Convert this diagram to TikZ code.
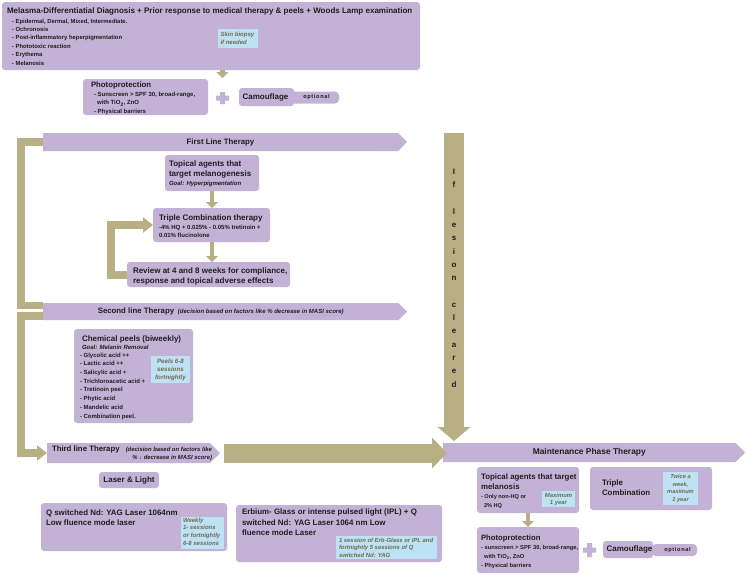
\documentclass[tikz,border=0pt]{standalone}
\usepackage{fontspec}
\setmainfont{Liberation Sans}
\usetikzlibrary{arrows.meta,shapes.symbols}
\definecolor{lav}{HTML}{C4B2D6}
\definecolor{oli}{HTML}{B8AF85}
\definecolor{sky}{HTML}{BDE2F4}
\definecolor{ntxt}{HTML}{72694F}
\definecolor{txt}{HTML}{1E1E1E}
\newcommand\fs[2]{\fontsize{#1}{#2}\selectfont}
\begin{document}
\begin{tikzpicture}[x=1pt,y=-1pt,
  every node/.style={inner sep=0pt, outer sep=0pt, text=txt},
  box/.style={fill=lav, rounded corners=3pt, anchor=north west},
  note/.style={fill=sky, anchor=north west},
  t/.style={anchor=north west, align=left},
  nt/.style={font=\fs{6}{8}\bfseries\itshape, text=ntxt, align=left},
  hd/.style={font=\fs{8}{10}\bfseries},
  banner/.style={shape=signal, signal to=east, signal pointer angle=90, fill=lav, anchor=west, font=\fs{7.8}{9}\bfseries},
  sarrow/.style={draw=oli, line width=4.5pt, -{Triangle[length=6pt,width=12pt]}},
  obar/.style={draw=oli, line width=7.5pt, line join=miter},
  opt/.style={font=\fs{5.6}{6}\bfseries\addfontfeature{LetterSpace=12}}
]
\useasboundingbox (0,0) rectangle (746,574);

% ---------- top box ----------
\node[box, minimum width=418pt, minimum height=68pt] (top) at (2,2) {};
\node[t, font=\fs{8}{9}\bfseries] (title) at (7,8) {Melasma-Differentiatial Diagnosis + Prior response to medical therapy \& peels + Woods Lamp examination};
\node[t, font=\fs{5.9}{8.4}\bfseries] (dx) at (12,18.8) {- Epidermal, Dermal, Mixed, Intermediate.\\- Ochronosis\\- Post-inflammatory heperpigmentation\\- Phototoxic reaction\\- Erythema\\- Melanosis};
\node[note, minimum width=40pt, minimum height=19pt] (biopsy) at (218,29) {};
\node[nt, anchor=west] (biopsyt) at ([xshift=2.5pt]biopsy.west) {Skin biopsy\\if needed};

% ---------- photoprotection 1 ----------
\node[box, minimum width=125pt, minimum height=36pt] (photo) at (83,79) {};
\node[t, font=\fs{7.8}{9}\bfseries] (photot) at (91,82.1) {Photoprotection};
\node[t, font=\fs{6}{8.7}\bfseries] (photol) at (94,91.8) {- Sunscreen > SPF 30, broad-range,\\\hspace*{3pt}with TiO\textsubscript{2}, ZnO\\- Physical barriers};
\coordinate (plus1) at (222.5,98);
\fill[lav] (220,92) rectangle (225,104) (216,95.5) rectangle (229,100.5);
\draw[sarrow] (top.south -| plus1) -- ([yshift=1pt]plus1 |- photo.north);
\node[box, minimum width=49pt, minimum height=12pt, rounded corners=4pt] (opt1) at (290,91.5) {};
\node[box, minimum width=55pt, minimum height=18pt] (cam1) at (239,88) {};
\node[hd] (cam1t) at ([xshift=-1pt]cam1.center) {Camouflage};
\node[opt] (opt1t) at ([xshift=2pt]opt1.center) {optional};

% ---------- banners ----------
\node[banner, minimum width=364pt, minimum height=18pt] (first) at (43,142) {First Line Therapy};
\node[banner, minimum width=364pt, minimum height=17pt] (second) at (43,311.5) {Second line Therapy {\fs{6}{7}\itshape\ (decision based on factors like \% decrease in MASI score)}};
\node[banner, minimum width=173pt, minimum height=20pt] (third) at (47,453) {};
\node[anchor=base west, font=\fs{7.8}{9}\bfseries] (thirdt) at (52,451.8) {Third line Therapy};
\node[anchor=north east, align=right, font=\fs{5.9}{8}\bfseries\itshape] (thirdc) at (212,446.8) {(decision based on factors like\\\% ↓ decrease in MASI score)};
\node[banner, minimum width=302pt, minimum height=19pt, font=\fs{8.4}{9}\bfseries] (maint) at (443,452.5) {Maintenance Phase Therapy};

% ---------- left brackets ----------
\draw[obar] (first.west) -- (21,142) -- (21,305.5) -- ([yshift=6pt]second.west);
\draw[obar, -{Triangle[length=10pt,width=15pt]}] ([yshift=-4.5pt]second.west) -- (21,316) -- (21,453) -- (third.west);

% ---------- first line ----------
\node[box, minimum width=94pt, minimum height=36pt] (topical) at (165,155) {};
\node[t, hd] (topicalt) at (169,161) {Topical agents that\\target melanogenesis};
\node[t, font=\fs{6}{7}\bfseries\itshape] (topicalg) at (169,180.8) {Goal: Hyperpigmentation};
\node[box, minimum width=117pt, minimum height=34pt] (triple) at (153,208) {};
\node[t, hd] (triplet) at (159,215) {Triple Combination therapy};
\node[t, font=\fs{6}{8.3}\bfseries] (triplel) at (159,224.8) {-4\% HQ + 0.025\% - 0.05\% tretinoin +\\0.01\% flucinolone};
\node[box, minimum width=163pt, minimum height=25pt] (review) at (127,262) {};
\node[t, hd] (reviewt) at (133,268) {Review at 4 and 8 weeks for compliance,\\response and topical adverse effects};
\draw[sarrow] (topical.south) -- (topical.south |- triple.north);
\draw[sarrow] (topical.south |- triple.south) -- (topical.south |- review.north);
\coordinate (fb) at (111,0);
\draw[obar, line width=8pt, -{Triangle[length=10pt,width=15pt]}] (review.west) -| (fb |- triple.west) -- (triple.west);

% ---------- If lesion cleared ----------
\coordinate (vtop) at (454,133);
\draw[draw=oli, line width=20pt, -{Triangle[length=14pt,width=32pt]}] (vtop) -- ([yshift=2pt]vtop |- maint.north);
\node[align=center, font=\fs{8}{13.3}\bfseries] (iflc) at (454,278) {I\\f\\\mbox{}\\l\\e\\s\\i\\o\\n\\\mbox{}\\c\\l\\e\\a\\r\\e\\d};

% ---------- second line ----------
\node[box, minimum width=119pt, minimum height=94pt] (chem) at (74,329) {};
\node[t, hd] (chemt) at (82,336) {Chemical peels (biweekly)};
\node[t, font=\fs{6}{7}\bfseries\itshape] (chemg) at (82,344.8) {Goal: Melanin Removal};
\node[t, font=\fs{6}{8.7}\bfseries] (cheml) at (80,352.8) {- Glycolic acid ++\\- Lactic acid ++\\- Salicylic acid +\\- Trichloroacetic acid +\\- Tretinoin peel\\- Phytic acid\\- Mandelic acid\\- Combination peel.};
\node[note, minimum width=39pt, minimum height=27pt] (peels) at (151,356) {};
\node[nt, align=center, font=\fs{6.2}{8}\bfseries\itshape] (peelst) at (peels.center) {Peels 6-8\\sessions\\fortnightly};

% ---------- third line ----------
\draw[draw=oli, line width=19pt, -{Triangle[length=15pt,width=30pt]}] ([xshift=4pt]third.east) -- ([xshift=4pt]third.east -| maint.west);
\node[box, minimum width=60pt, minimum height=16pt] (laser) at (99,472) {};
\node[hd] (lasert) at (laser.center) {Laser \& Light};
\node[box, minimum width=186pt, minimum height=48pt] (qs) at (41,503) {};
\node[t, font=\fs{7.9}{10}\bfseries] (qst) at (46,510.1) {Q switched Nd: YAG Laser 1064nm\\Low fluence mode laser};
\node[note, minimum width=43pt, minimum height=32pt] (qsn) at (181,517) {};
\node[nt, t, font=\fs{6}{7.8}\bfseries\itshape] (qsnt) at (183,517.8) {Weekly\\1- sessions\\or fortnightly\\6-8 sessions};
\node[box, minimum width=206pt, minimum height=57pt] (erb) at (236,505) {};
\node[t, font=\fs{7.9}{10.5}\bfseries] (erbt) at (242,509.1) {Erbium- Glass or intense pulsed light (IPL) + Q\\switched Nd: YAG Laser 1064 nm Low\\fluence mode Laser};
\node[note, minimum width=101pt, minimum height=23pt] (erbn) at (336,536) {};
\node[nt, t, font=\fs{5.9}{7.5}\bfseries\itshape] (erbnt) at (339,537.8) {1 session of Erb-Glass or IPL and\\fortnightly 5 sessions of Q\\switched Nd: YAG};

% ---------- maintenance ----------
\node[box, minimum width=102pt, minimum height=46pt] (topical2) at (477,467) {};
\node[t, font=\fs{7.9}{10}\bfseries] (topical2t) at (481,474.1) {Topical agents that target\\melanosis};
\node[t, font=\fs{5.6}{9}\bfseries] (topical2l) at (481,494) {- Only non-HQ or\\\hspace*{3pt}2\% HQ};
\node[note, minimum width=33pt, minimum height=16pt] (maxn) at (542,491) {};
\node[nt, align=center, font=\fs{5.9}{7}\bfseries\itshape] (maxnt) at (maxn.center) {Maximum\\1 year};
\node[box, minimum width=122pt, minimum height=43pt] (triple2) at (590,467) {};
\node[t, font=\fs{7.9}{10}\bfseries] (triple2t) at (602,480.1) {Triple\\Combination};
\node[note, minimum width=35pt, minimum height=33pt] (twice) at (663,472) {};
\node[nt, align=center, font=\fs{5.7}{7.6}\bfseries\itshape] (twicet) at (twice.center) {Twice a\\week,\\maximum\\1 year};
\node[box, minimum width=102pt, minimum height=46pt] (photo2) at (477,527) {};
\node[t, font=\fs{7.7}{9}\bfseries] (photo2t) at (481,535.2) {Photoprotection};
\node[t, font=\fs{5.8}{9}\bfseries] (photo2l) at (481,544.9) {- sunscreen > SPF 30, broad-range,\\\hspace*{3pt}with TiO\textsubscript{2}, ZnO\\- Physical barriers};
\draw[sarrow] (topical2.south) -- (photo2.north);
\fill[lav] (587,543) rectangle (592,557) (583,547.5) rectangle (596,552.5);
\node[box, minimum width=45pt, minimum height=12pt, rounded corners=4pt] (opt2) at (652,544) {};
\node[box, minimum width=50pt, minimum height=17pt] (cam2) at (603,541) {};
\node[hd] (cam2t) at ([xshift=1.5pt]cam2.center) {Camouflage};
\node[opt] (opt2t) at ([xshift=3pt]opt2.center) {optional};
\end{tikzpicture}
\end{document}
